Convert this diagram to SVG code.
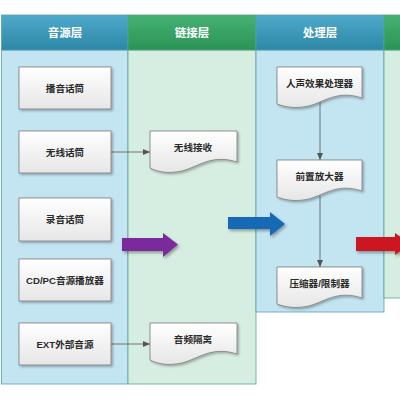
<svg xmlns="http://www.w3.org/2000/svg" width="400" height="400" viewBox="0 0 400 400">
<style>
.lane-b{fill:#c3e4f1;stroke:#5a9fb5;stroke-width:0.8}
.lane-g{fill:#d6eee1;stroke:#5aa584;stroke-width:0.8}
.hd-b{fill:url(#gb);stroke:#5a9fb5;stroke-width:0.8}
.hd-g{fill:url(#gg);stroke:#5aa584;stroke-width:0.8}
.ht{font-family:"Noto Sans CJK SC","Liberation Sans",sans-serif;font-size:11.5px;font-weight:bold;fill:#fff;text-anchor:middle}
.box{fill:url(#nf);stroke:#7a7a7a;stroke-width:0.8;filter:url(#sh)}
.nt{font-family:"Liberation Sans","Noto Sans CJK SC",sans-serif;font-size:9.6px;font-weight:bold;fill:#2a2a2a;text-anchor:middle}
.con{stroke:#555;stroke-width:0.8;fill:none;marker-end:url(#ah)}
</style>
<defs>
<linearGradient id="gb" x1="0" y1="0" x2="0" y2="1"><stop offset="0" stop-color="#4eaacb"/><stop offset="1" stop-color="#2d87a6"/></linearGradient>
<linearGradient id="gg" x1="0" y1="0" x2="0" y2="1"><stop offset="0" stop-color="#45b273"/><stop offset="1" stop-color="#2b9355"/></linearGradient>
<linearGradient id="nf" x1="0" y1="0" x2="0" y2="1"><stop offset="0" stop-color="#ffffff"/><stop offset="1" stop-color="#e6e6e6"/></linearGradient>
<filter id="sh" x="-20%" y="-20%" width="150%" height="150%"><feDropShadow dx="1.5" dy="1.5" stdDeviation="1" flood-color="#000" flood-opacity="0.3"/></filter>
<filter id="ash" x="-20%" y="-30%" width="150%" height="170%"><feDropShadow dx="1.5" dy="2" stdDeviation="1.5" flood-color="#000" flood-opacity="0.35"/></filter>
<marker id="ah" markerWidth="8" markerHeight="8" refX="7" refY="4" orient="auto" markerUnits="userSpaceOnUse"><path d="M0,1 L7,4 L0,7 Z" fill="#555"/></marker>
</defs>

<g id="lanes">
<rect class="lane-b" x="1.5" y="50" width="126.5" height="334"/>
<rect class="lane-g" x="128" y="50" width="128" height="334"/>
<rect class="lane-b" x="256" y="50" width="128" height="262"/>
<rect class="lane-g" x="384" y="50" width="20" height="248"/>
<rect class="hd-b" x="1.5" y="15" width="126.5" height="35"/>
<rect class="hd-g" x="128" y="15" width="128" height="35"/>
<rect class="hd-b" x="256" y="15" width="128" height="35"/>
<rect class="hd-g" x="384" y="15" width="20" height="35"/>
<text class="ht" x="65" y="37">音源层</text>
<text class="ht" x="192" y="37">链接层</text>
<text class="ht" x="320" y="37">处理层</text>
</g>

<g id="connectors">
<line class="con" x1="111" y1="152" x2="150" y2="152"/>
<line class="con" x1="111" y1="344" x2="150" y2="344"/>
<line class="con" x1="320" y1="101" x2="320" y2="160"/>
<line class="con" x1="320" y1="196" x2="320" y2="267"/>
</g>

<g id="big-arrows" filter="url(#ash)">
<path d="M122,238 H163 V233 L178,244.5 L163,257 V251 H122 Z" fill="#7a2a9a"/>
<path d="M228,217 H270 V212 L285,224 L270,236 V229 H228 Z" fill="#1769b5"/>
<path d="M356,237 H395 V233 L410,244 L395,255 V251 H356 Z" fill="#cc1620"/>
</g>

<g id="n1"><rect class="box" x="19" y="67" width="92" height="42"/><text class="nt" x="65" y="91.5">播音话筒</text></g>
<g id="n2"><rect class="box" x="19" y="131" width="92" height="42"/><text class="nt" x="65" y="155.5">无线话筒</text></g>
<g id="n3"><rect class="box" x="19" y="198" width="92" height="43"/><text class="nt" x="65" y="223">录音话筒</text></g>
<g id="n4"><rect class="box" x="19" y="259" width="92" height="42"/><text class="nt" x="65" y="283.5">CD/PC音源播放器</text></g>
<g id="n5"><rect class="box" x="19" y="323" width="92" height="42"/><text class="nt" x="65" y="347.5">EXT外部音源</text></g>

<g id="d1"><path class="box" d="M150,131 H237 V162 C212,154 200,166 182,171 C168,174 158,172 150,168 Z"/><text class="nt" x="193" y="151">无线接收</text></g>
<g id="d2"><path class="box" d="M150,323 H237 V354 C212,346 200,358 182,363 C168,366 158,364 150,360 Z"/><text class="nt" x="193" y="343">音频隔离</text></g>
<g id="d3"><path class="box" d="M277,67 H362 V98 C338,90 326,101 309,106 C295,109 285,107 277,104 Z"/><text class="nt" x="319.5" y="87">人声效果处理器</text></g>
<g id="d4"><path class="box" d="M277,160 H362 V191 C338,183 326,194 309,199 C295,202 285,200 277,197 Z"/><text class="nt" x="319.5" y="180">前置放大器</text></g>
<g id="d5"><path class="box" d="M277,267 H362 V298 C338,290 326,301 309,306 C295,309 285,307 277,304 Z"/><text class="nt" x="319.5" y="287">压缩器/限制器</text></g>
</svg>
